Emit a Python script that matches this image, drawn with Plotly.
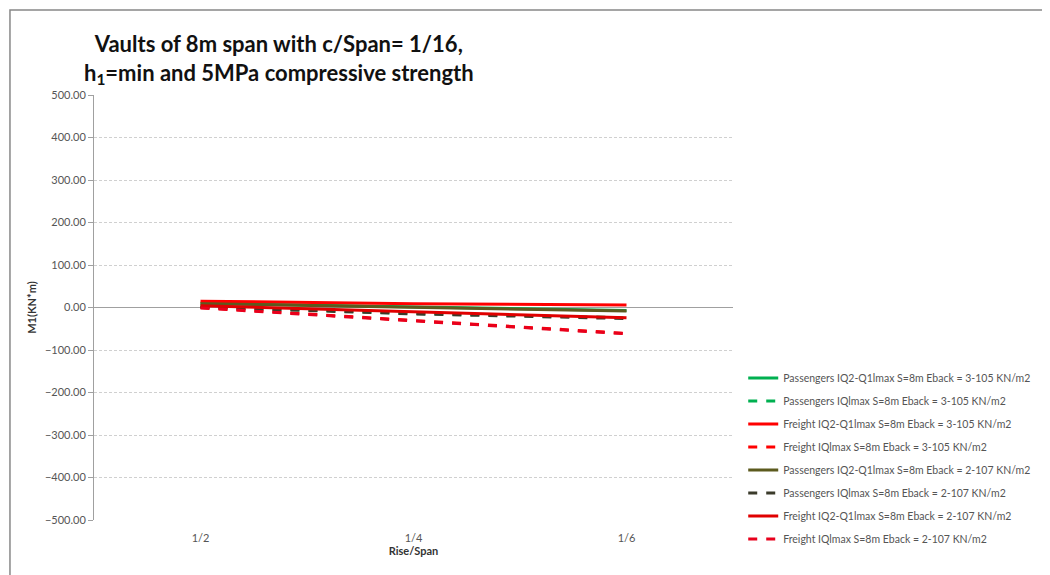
import plotly.graph_objects as go

rise_span = ["1/2", "1/4", "1/6"]

pass_q2q1_3105 = [10, 2, -7]
pass_iq_3105 = [2, -14, -24]
freight_q2q1_3105 = [15, 9, 6]
freight_iq_3105 = [0, -30, -61]
pass_q2q1_2107 = [9, 1, -8]
pass_iq_2107 = [1, -15, -26]
freight_q2q1_2107 = [4, -10, -24]
freight_iq_2107 = [-1, -31, -62]

series = [
    ("Passengers IQ2-Q1lmax S=8m Eback = 3-105 KN/m2", pass_q2q1_3105, "#00b050", "solid"),
    ("Passengers IQlmax S=8m Eback = 3-105 KN/m2", pass_iq_3105, "#00b050", "dash"),
    ("Freight IQ2-Q1lmax S=8m Eback = 3-105 KN/m2", freight_q2q1_3105, "#ff0000", "solid"),
    ("Freight IQlmax S=8m Eback = 3-105 KN/m2", freight_iq_3105, "#ff0000", "dash"),
    ("Passengers IQ2-Q1lmax S=8m Eback = 2-107 KN/m2", pass_q2q1_2107, "#5c5a1e", "solid"),
    ("Passengers IQlmax S=8m Eback = 2-107 KN/m2", pass_iq_2107, "#3b3b2b", "dash"),
    ("Freight IQ2-Q1lmax S=8m Eback = 2-107 KN/m2", freight_q2q1_2107, "#e00000", "solid"),
    ("Freight IQlmax S=8m Eback = 2-107 KN/m2", freight_iq_2107, "#e8001c", "dash"),
]

fig = go.Figure()
for i, (name, vals, col, dash) in enumerate(series):
    fig.add_trace(go.Scatter(x=rise_span, y=vals, name=name, mode="lines",
                             legendgroup=str(i),
                             line=dict(color=col, width=3, dash=dash)))

fig.update_layout(
    width=1050, height=575,
    margin=dict(l=86, r=325, t=87, b=63, autoexpand=False),
    paper_bgcolor="white", plot_bgcolor="white",
    font=dict(family="Lato, Arial", color="#444"),
    showlegend=True,
    legend=dict(x=1.016, y=0.368, xanchor="left", yanchor="top",
                font=dict(size=10.5, color="#555"), tracegroupgap=4,
                bgcolor="rgba(0,0,0,0)"),
    annotations=[dict(text="<b>Vaults of 8m span with c/Span= 1/16,<br>h<sub>1</sub>=min and 5MPa compressive strength</b>",
                      x=0.29, y=1.158, xref="paper", yref="paper", xanchor="center", yanchor="top",
                      showarrow=False, font=dict(size=22, color="#111", family="Lato"))],
    shapes=[dict(type="rect", xref="paper", yref="paper", x0=-0.1315, y0=-0.2, x1=1.6, y1=1.2,
                 line=dict(color="#888", width=1.5), layer="below")],
)

fig.update_xaxes(type="category", range=[-0.5, 2.5], showgrid=False, showline=False,
                 ticks="outside", ticklen=8, tickcolor="rgba(0,0,0,0)",
                 tickfont=dict(size=11, color="#555"), automargin=False,
                 title=dict(text="<b>Rise/Span</b>", font=dict(size=11, color="#333"), standoff=4))
fig.update_yaxes(range=[-500, 500], dtick=100, tickformat=".2f", automargin=False,
                 showgrid=True, gridcolor="#d0d0d0", griddash="3px,2px", gridwidth=1,
                 zeroline=True, zerolinecolor="#a0a0a0", zerolinewidth=1,
                 showline=True, linecolor="#a0a0a0", ticks="outside", ticklen=5, tickcolor="#a0a0a0",
                 tickfont=dict(size=11, color="#555"),
                 title=dict(text="<b>M1(KN*m)</b>", font=dict(size=11, color="#333"), standoff=6))

fig.write_html("out.html")
